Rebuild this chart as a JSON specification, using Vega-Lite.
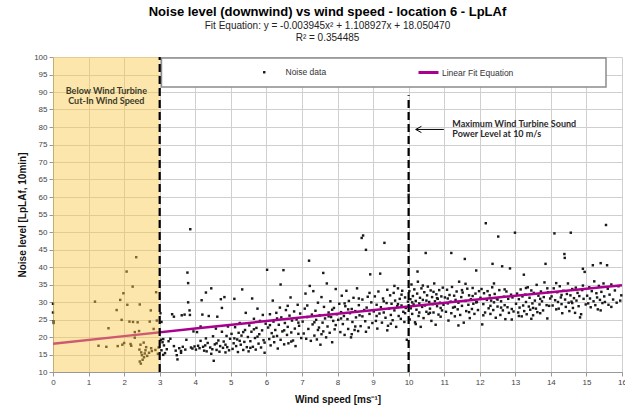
{
  "$schema": "https://vega.github.io/schema/vega-lite/v6.json",
  "width": 569,
  "height": 315,
  "autosize": "none",
  "padding": {"left": 53, "top": 57, "right": 3, "bottom": 42},
  "background": "white",
  "config": {"view": {"stroke": null}, "font": "Liberation Sans"},
  "title": {
    "text": "Noise level (downwind)  vs wind  speed - location 6 - LpLAf",
    "subtitle": ["Fit Equation: y = -0.003945x² + 1.108927x + 18.050470", "R² = 0.354485"],
    "font": "Liberation Sans", "fontSize": 13, "fontWeight": "bold", "color": "#000",
    "subtitleFont": "Liberation Sans", "subtitleFontSize": 10, "subtitleColor": "#222",
    "subtitlePadding": 2, "subtitleLineHeight": 12, "offset": 10, "anchor": "middle", "dx": -10
  },
  "datasets": {
    "pts": [
      {"x":0,"y":29.5},{"x":0,"y":27},{"x":0.02,"y":24.5},{"x":0.02,"y":24},
      {"x":1.18,"y":30.1},{"x":1.28,"y":17.5},{"x":1.5,"y":17.2},{"x":1.56,"y":22.5},{"x":1.79,"y":27.7},{"x":1.82,"y":17.4},{"x":1.89,"y":30.6},{"x":1.93,"y":24.9},{"x":1.95,"y":17.8},{"x":1.98,"y":32.5},{"x":2.0,"y":18.3},{"x":2.07,"y":38.7},{"x":2.09,"y":29.2},{"x":2.15,"y":24.4},{"x":2.18,"y":18.0},{"x":2.2,"y":17.5},{"x":2.24,"y":34.4},{"x":2.25,"y":24.3},{"x":2.3,"y":21.4},{"x":2.3,"y":19.8},{"x":2.34,"y":42.8},{"x":2.38,"y":24.2},{"x":2.42,"y":21.7},{"x":2.44,"y":29.3},{"x":2.46,"y":17.8},{"x":2.43,"y":16.4},{"x":2.48,"y":15.6},{"x":2.5,"y":14.8},{"x":2.44,"y":13.0},{"x":2.47,"y":12.4},{"x":2.52,"y":13.5},{"x":2.56,"y":14.2},{"x":2.58,"y":15.3},{"x":2.6,"y":16.2},{"x":2.55,"y":18.4},{"x":2.62,"y":17.1},{"x":2.65,"y":14.6},{"x":2.7,"y":15.5},{"x":2.72,"y":24.4},{"x":2.75,"y":27.6},{"x":2.76,"y":16.8},{"x":2.78,"y":16.0},{"x":2.83,"y":22.3},{"x":2.9,"y":32.8},{"x":2.92,"y":24.7},{"x":2.88,"y":16.3},{"x":2.95,"y":15.2},{"x":2.97,"y":17.0},
      {"x":3.02,"y":26.8},{"x":3.05,"y":24.3},{"x":3.03,"y":19.2},{"x":3.08,"y":18.5},{"x":3.1,"y":19.4},{"x":3.12,"y":17.6},{"x":3.05,"y":16.2},{"x":3.15,"y":15.4},{"x":3.1,"y":14.9},{"x":3.2,"y":16.5},{"x":3.25,"y":18.8},{"x":3.3,"y":19.5},{"x":3.35,"y":26.5},{"x":3.4,"y":25.8},{"x":3.4,"y":17.4},{"x":3.45,"y":16.1},{"x":3.48,"y":14.8},{"x":3.5,"y":13.6},{"x":3.55,"y":16.8},{"x":3.6,"y":15.5},{"x":3.6,"y":16.0},{"x":3.62,"y":26.2},{"x":3.65,"y":17.2},{"x":3.7,"y":26.4},{"x":3.72,"y":16.4},{"x":3.75,"y":19.2},{"x":3.78,"y":38.4},{"x":3.8,"y":35.4},{"x":3.8,"y":29.9},{"x":3.84,"y":27.6},{"x":3.85,"y":26.3},{"x":3.86,"y":50.8},{"x":3.88,"y":17.0},{"x":3.92,"y":16.7},{"x":3.95,"y":21.6},{"x":3.98,"y":17.3},
      {"x":4.02,"y":16.4},{"x":4.05,"y":21.4},{"x":4.08,"y":17.5},{"x":4.12,"y":16.8},{"x":4.15,"y":23.0},{"x":4.15,"y":18.9},{"x":4.18,"y":30.5},{"x":4.2,"y":26.4},{"x":4.22,"y":17.2},{"x":4.25,"y":16.1},{"x":4.28,"y":17.6},{"x":4.3,"y":32.7},{"x":4.3,"y":19.6},{"x":4.32,"y":15.9},{"x":4.35,"y":18.3},{"x":4.38,"y":26.0},{"x":4.42,"y":17.0},{"x":4.45,"y":33.9},{"x":4.45,"y":15.2},{"x":4.48,"y":16.5},{"x":4.5,"y":20.2},{"x":4.52,"y":13.2},{"x":4.55,"y":17.9},{"x":4.58,"y":22.4},{"x":4.6,"y":16.3},{"x":4.6,"y":18.2},{"x":4.62,"y":25.8},{"x":4.65,"y":19.0},{"x":4.68,"y":15.8},{"x":4.7,"y":17.4},{"x":4.72,"y":30.8},{"x":4.75,"y":21.5},{"x":4.75,"y":28.3},{"x":4.78,"y":16.9},{"x":4.8,"y":18.7},{"x":4.82,"y":31.4},{"x":4.85,"y":15.6},{"x":4.85,"y":17.8},{"x":4.88,"y":20.3},{"x":4.9,"y":17.1},{"x":4.92,"y":23.0},{"x":4.95,"y":16.2},{"x":4.98,"y":19.5},
      {"x":5.02,"y":20.9},{"x":5.05,"y":16.6},{"x":5.08,"y":18.2},{"x":5.1,"y":30.9},{"x":5.1,"y":19.6},{"x":5.12,"y":22.8},{"x":5.15,"y":17.4},{"x":5.18,"y":19.3},{"x":5.2,"y":15.7},{"x":5.22,"y":21.2},{"x":5.25,"y":24.0},{"x":5.25,"y":18.9},{"x":5.28,"y":17.8},{"x":5.3,"y":20.4},{"x":5.32,"y":33.6},{"x":5.35,"y":16.3},{"x":5.35,"y":21.4},{"x":5.38,"y":18.6},{"x":5.4,"y":22.0},{"x":5.42,"y":26.9},{"x":5.45,"y":17.1},{"x":5.48,"y":20.0},{"x":5.5,"y":15.9},{"x":5.52,"y":23.3},{"x":5.55,"y":18.8},{"x":5.55,"y":16.9},{"x":5.58,"y":21.5},{"x":5.6,"y":31.0},{"x":5.62,"y":17.2},{"x":5.65,"y":25.2},{"x":5.65,"y":22.2},{"x":5.68,"y":19.7},{"x":5.7,"y":16.4},{"x":5.72,"y":22.6},{"x":5.75,"y":28.1},{"x":5.75,"y":20.1},{"x":5.78,"y":18.1},{"x":5.8,"y":20.8},{"x":5.82,"y":24.6},{"x":5.85,"y":17.0},{"x":5.88,"y":21.9},{"x":5.9,"y":26.3},{"x":5.92,"y":19.1},{"x":5.95,"y":15.5},{"x":5.95,"y":18.4},{"x":5.98,"y":23.8},
      {"x":6.02,"y":39.2},{"x":6.05,"y":22.7},{"x":6.08,"y":19.4},{"x":6.1,"y":26.5},{"x":6.1,"y":23.4},{"x":6.12,"y":17.6},{"x":6.15,"y":21.1},{"x":6.18,"y":30.4},{"x":6.2,"y":24.4},{"x":6.2,"y":20.1},{"x":6.22,"y":18.5},{"x":6.25,"y":22.0},{"x":6.28,"y":26.9},{"x":6.3,"y":20.3},{"x":6.3,"y":25.3},{"x":6.32,"y":16.7},{"x":6.35,"y":23.5},{"x":6.38,"y":28.4},{"x":6.4,"y":19.2},{"x":6.4,"y":35.0},{"x":6.42,"y":25.6},{"x":6.45,"y":21.6},{"x":6.48,"y":39.1},{"x":6.5,"y":17.9},{"x":6.5,"y":21.9},{"x":6.52,"y":24.0},{"x":6.55,"y":27.7},{"x":6.58,"y":20.6},{"x":6.6,"y":22.9},{"x":6.6,"y":28.9},{"x":6.62,"y":18.2},{"x":6.65,"y":26.1},{"x":6.68,"y":31.3},{"x":6.7,"y":21.3},{"x":6.7,"y":18.7},{"x":6.72,"y":24.7},{"x":6.75,"y":19.0},{"x":6.78,"y":27.3},{"x":6.8,"y":22.4},{"x":6.82,"y":17.4},{"x":6.85,"y":25.0},{"x":6.88,"y":29.2},{"x":6.9,"y":20.9},{"x":6.9,"y":24.1},{"x":6.92,"y":23.2},{"x":6.95,"y":26.7},{"x":6.98,"y":19.7},
      {"x":7.02,"y":24.4},{"x":7.05,"y":21.0},{"x":7.08,"y":28.1},{"x":7.1,"y":32.4},{"x":7.12,"y":19.5},{"x":7.15,"y":25.7},{"x":7.15,"y":29.0},{"x":7.18,"y":22.3},{"x":7.2,"y":41.8},{"x":7.22,"y":34.6},{"x":7.25,"y":18.9},{"x":7.28,"y":26.4},{"x":7.3,"y":23.6},{"x":7.32,"y":33.1},{"x":7.35,"y":20.4},{"x":7.35,"y":24.2},{"x":7.38,"y":27.5},{"x":7.4,"y":24.9},{"x":7.42,"y":19.3},{"x":7.45,"y":29.8},{"x":7.45,"y":22.0},{"x":7.48,"y":22.7},{"x":7.5,"y":26.2},{"x":7.52,"y":17.8},{"x":7.55,"y":31.4},{"x":7.55,"y":20.8},{"x":7.58,"y":24.1},{"x":7.6,"y":21.6},{"x":7.6,"y":38.3},{"x":7.62,"y":28.6},{"x":7.65,"y":25.3},{"x":7.68,"y":19.9},{"x":7.7,"y":35.3},{"x":7.72,"y":23.0},{"x":7.75,"y":27.0},{"x":7.75,"y":25.9},{"x":7.78,"y":21.2},{"x":7.8,"y":30.2},{"x":7.82,"y":25.7},{"x":7.85,"y":18.5},{"x":7.85,"y":27.8},{"x":7.88,"y":24.6},{"x":7.9,"y":28.3},{"x":7.92,"y":22.2},{"x":7.95,"y":33.7},{"x":7.95,"y":23.4},{"x":7.98,"y":26.5},
      {"x":8.02,"y":24.9},{"x":8.05,"y":29.5},{"x":8.08,"y":21.4},{"x":8.1,"y":27.1},{"x":8.1,"y":25.3},{"x":8.12,"y":31.8},{"x":8.15,"y":23.7},{"x":8.18,"y":26.0},{"x":8.2,"y":20.6},{"x":8.2,"y":29.6},{"x":8.22,"y":28.8},{"x":8.25,"y":33.2},{"x":8.28,"y":25.1},{"x":8.3,"y":22.3},{"x":8.3,"y":27.9},{"x":8.32,"y":30.3},{"x":8.35,"y":26.8},{"x":8.38,"y":19.9},{"x":8.4,"y":28.0},{"x":8.4,"y":20.8},{"x":8.42,"y":24.3},{"x":8.45,"y":31.2},{"x":8.48,"y":22.0},{"x":8.5,"y":27.4},{"x":8.5,"y":23.0},{"x":8.52,"y":25.6},{"x":8.55,"y":33.9},{"x":8.58,"y":21.7},{"x":8.6,"y":29.1},{"x":8.6,"y":31.0},{"x":8.62,"y":26.2},{"x":8.65,"y":23.1},{"x":8.68,"y":48.3},{"x":8.7,"y":30.7},{"x":8.7,"y":25.9},{"x":8.72,"y":49.0},{"x":8.75,"y":27.7},{"x":8.78,"y":24.5},{"x":8.8,"y":44.9},{"x":8.8,"y":21.5},{"x":8.82,"y":28.4},{"x":8.85,"y":31.5},{"x":8.88,"y":22.7},{"x":8.9,"y":26.6},{"x":8.9,"y":32.6},{"x":8.92,"y":37.9},{"x":8.95,"y":29.9},{"x":8.98,"y":24.0},
      {"x":9.02,"y":27.3},{"x":9.05,"y":31.6},{"x":9.08,"y":24.6},{"x":9.1,"y":29.2},{"x":9.1,"y":26.0},{"x":9.12,"y":22.4},{"x":9.15,"y":33.0},{"x":9.18,"y":26.7},{"x":9.2,"y":38.1},{"x":9.22,"y":28.5},{"x":9.25,"y":24.1},{"x":9.28,"y":31.0},{"x":9.3,"y":27.0},{"x":9.3,"y":30.2},{"x":9.32,"y":46.9},{"x":9.35,"y":25.5},{"x":9.38,"y":29.7},{"x":9.4,"y":33.5},{"x":9.4,"y":21.9},{"x":9.42,"y":23.2},{"x":9.45,"y":28.1},{"x":9.48,"y":31.9},{"x":9.5,"y":26.3},{"x":9.5,"y":23.8},{"x":9.52,"y":29.5},{"x":9.55,"y":24.8},{"x":9.58,"y":32.6},{"x":9.6,"y":27.6},{"x":9.6,"y":34.6},{"x":9.62,"y":30.4},{"x":9.65,"y":22.9},{"x":9.68,"y":28.8},{"x":9.7,"y":33.9},{"x":9.7,"y":29.4},{"x":9.72,"y":26.0},{"x":9.75,"y":30.9},{"x":9.78,"y":25.2},{"x":9.8,"y":29.0},{"x":9.8,"y":32.1},{"x":9.82,"y":33.2},{"x":9.85,"y":27.2},{"x":9.88,"y":24.3},{"x":9.9,"y":31.3},{"x":9.9,"y":26.8},{"x":9.92,"y":28.3},{"x":9.95,"y":19.2},{"x":9.98,"y":30.1},
      {"x":10.0,"y":60.6},{"x":10.02,"y":33.1},{"x":10.03,"y":25.0},{"x":10.05,"y":30.8},{"x":10.06,"y":28.2},{"x":10.08,"y":35.0},{"x":10.1,"y":26.6},{"x":10.1,"y":29.9},{"x":10.12,"y":31.7},{"x":10.14,"y":29.3},{"x":10.16,"y":33.6},{"x":10.18,"y":24.2},{"x":10.2,"y":30.3},{"x":10.2,"y":23.7},{"x":10.22,"y":27.8},{"x":10.24,"y":32.4},{"x":10.25,"y":38.7},{"x":10.26,"y":35.8},{"x":10.28,"y":26.0},{"x":10.3,"y":29.6},{"x":10.3,"y":27.0},{"x":10.32,"y":31.2},{"x":10.34,"y":22.9},{"x":10.36,"y":33.9},{"x":10.38,"y":28.6},{"x":10.4,"y":30.6},{"x":10.4,"y":34.7},{"x":10.42,"y":25.4},{"x":10.44,"y":32.8},{"x":10.46,"y":29.0},{"x":10.48,"y":44.0},{"x":10.5,"y":27.2},{"x":10.5,"y":30.4},{"x":10.52,"y":31.9},{"x":10.54,"y":34.4},{"x":10.56,"y":26.6},{"x":10.58,"y":30.0},{"x":10.6,"y":28.1},{"x":10.6,"y":26.9},{"x":10.62,"y":33.3},{"x":10.64,"y":24.6},{"x":10.66,"y":31.4},{"x":10.68,"y":29.4},{"x":10.7,"y":27.0},{"x":10.7,"y":32.9},{"x":10.72,"y":35.3},{"x":10.74,"y":30.2},{"x":10.76,"y":23.5},{"x":10.78,"y":32.2},{"x":10.8,"y":28.8},{"x":10.8,"y":31.1},{"x":10.82,"y":30.9},{"x":10.84,"y":26.4},{"x":10.86,"y":33.4},{"x":10.88,"y":29.8},{"x":10.9,"y":25.8},{"x":10.9,"y":28.3},{"x":10.92,"y":31.6},{"x":10.94,"y":27.6},{"x":10.96,"y":34.1},{"x":10.98,"y":29.2},
      {"x":11.02,"y":31.3},{"x":11.05,"y":27.2},{"x":11.08,"y":33.5},{"x":11.1,"y":29.6},{"x":11.1,"y":31.0},{"x":11.12,"y":24.7},{"x":11.15,"y":32.0},{"x":11.18,"y":30.1},{"x":11.2,"y":26.8},{"x":11.2,"y":44.0},{"x":11.22,"y":34.3},{"x":11.25,"y":28.4},{"x":11.28,"y":31.8},{"x":11.3,"y":25.9},{"x":11.3,"y":28.6},{"x":11.32,"y":30.6},{"x":11.35,"y":33.0},{"x":11.38,"y":27.9},{"x":11.4,"y":29.8},{"x":11.4,"y":23.3},{"x":11.42,"y":35.8},{"x":11.45,"y":26.3},{"x":11.48,"y":31.4},{"x":11.5,"y":28.9},{"x":11.5,"y":33.4},{"x":11.52,"y":32.7},{"x":11.55,"y":24.1},{"x":11.58,"y":42.3},{"x":11.6,"y":30.3},{"x":11.6,"y":35.2},{"x":11.62,"y":27.4},{"x":11.65,"y":33.8},{"x":11.68,"y":29.2},{"x":11.7,"y":31.9},{"x":11.7,"y":27.1},{"x":11.72,"y":25.4},{"x":11.75,"y":30.8},{"x":11.78,"y":28.0},{"x":11.8,"y":34.0},{"x":11.8,"y":31.7},{"x":11.82,"y":29.5},{"x":11.85,"y":26.6},{"x":11.88,"y":32.4},{"x":11.9,"y":39.0},{"x":11.9,"y":29.9},{"x":11.92,"y":30.0},{"x":11.95,"y":27.7},{"x":11.98,"y":33.1},
      {"x":12.02,"y":31.2},{"x":12.05,"y":33.7},{"x":12.07,"y":23.6},{"x":12.1,"y":29.4},{"x":12.1,"y":26.2},{"x":12.12,"y":32.5},{"x":12.15,"y":27.0},{"x":12.17,"y":52.5},{"x":12.2,"y":30.6},{"x":12.22,"y":33.1},{"x":12.25,"y":28.2},{"x":12.28,"y":31.9},{"x":12.3,"y":26.6},{"x":12.3,"y":28.9},{"x":12.32,"y":30.4},{"x":12.35,"y":34.2},{"x":12.36,"y":40.9},{"x":12.38,"y":27.7},{"x":12.4,"y":29.9},{"x":12.4,"y":35.3},{"x":12.42,"y":32.3},{"x":12.45,"y":25.5},{"x":12.48,"y":31.0},{"x":12.5,"y":28.7},{"x":12.5,"y":30.7},{"x":12.52,"y":48.7},{"x":12.55,"y":33.4},{"x":12.58,"y":26.3},{"x":12.6,"y":30.2},{"x":12.6,"y":28.4},{"x":12.63,"y":40.2},{"x":12.65,"y":27.6},{"x":12.68,"y":31.5},{"x":12.7,"y":29.1},{"x":12.7,"y":33.6},{"x":12.72,"y":25.1},{"x":12.75,"y":33.0},{"x":12.78,"y":28.5},{"x":12.8,"y":30.9},{"x":12.82,"y":26.9},{"x":12.85,"y":39.6},{"x":12.88,"y":32.1},{"x":12.9,"y":28.0},{"x":12.9,"y":25.0},{"x":12.92,"y":31.3},{"x":12.95,"y":27.3},{"x":12.99,"y":49.8},
      {"x":13.02,"y":29.5},{"x":13.05,"y":32.4},{"x":13.08,"y":27.0},{"x":13.1,"y":30.8},{"x":13.1,"y":26.0},{"x":13.12,"y":28.4},{"x":13.15,"y":33.6},{"x":13.18,"y":25.9},{"x":13.2,"y":31.6},{"x":13.22,"y":29.0},{"x":13.24,"y":37.8},{"x":13.25,"y":27.4},{"x":13.28,"y":32.1},{"x":13.3,"y":30.0},{"x":13.3,"y":34.0},{"x":13.32,"y":26.5},{"x":13.35,"y":34.2},{"x":13.38,"y":28.7},{"x":13.4,"y":31.2},{"x":13.42,"y":27.8},{"x":13.45,"y":33.3},{"x":13.45,"y":25.2},{"x":13.48,"y":29.6},{"x":13.5,"y":26.2},{"x":13.5,"y":28.3},{"x":13.52,"y":32.6},{"x":13.55,"y":30.4},{"x":13.58,"y":28.1},{"x":13.6,"y":34.9},{"x":13.62,"y":27.1},{"x":13.65,"y":31.8},{"x":13.68,"y":29.3},{"x":13.7,"y":26.8},{"x":13.7,"y":30.9},{"x":13.72,"y":33.0},{"x":13.75,"y":30.2},{"x":13.78,"y":27.6},{"x":13.8,"y":31.4},{"x":13.82,"y":35.6},{"x":13.85,"y":40.9},{"x":13.88,"y":29.1},{"x":13.9,"y":25.3},{"x":13.9,"y":33.9},{"x":13.92,"y":32.8},{"x":13.95,"y":28.9},{"x":13.98,"y":31.0},
      {"x":14.02,"y":31.6},{"x":14.05,"y":29.0},{"x":14.08,"y":33.9},{"x":14.1,"y":49.6},{"x":14.12,"y":30.5},{"x":14.15,"y":27.9},{"x":14.15,"y":35.4},{"x":14.18,"y":32.8},{"x":14.2,"y":30.0},{"x":14.22,"y":28.1},{"x":14.25,"y":34.5},{"x":14.28,"y":31.3},{"x":14.3,"y":29.4},{"x":14.3,"y":32.0},{"x":14.32,"y":26.8},{"x":14.35,"y":33.2},{"x":14.38,"y":43.7},{"x":14.39,"y":42.6},{"x":14.4,"y":30.7},{"x":14.42,"y":28.6},{"x":14.45,"y":32.3},{"x":14.48,"y":35.3},{"x":14.5,"y":29.8},{"x":14.52,"y":27.4},{"x":14.55,"y":31.9},{"x":14.56,"y":49.8},{"x":14.58,"y":30.1},{"x":14.6,"y":33.7},{"x":14.6,"y":29.7},{"x":14.62,"y":28.3},{"x":14.65,"y":31.1},{"x":14.68,"y":26.9},{"x":14.7,"y":34.1},{"x":14.72,"y":30.4},{"x":14.75,"y":32.6},{"x":14.78,"y":28.8},{"x":14.8,"y":31.7},{"x":14.82,"y":25.6},{"x":14.85,"y":26.5},{"x":14.88,"y":33.4},{"x":14.9,"y":39.5},{"x":14.9,"y":34.7},{"x":14.92,"y":30.9},{"x":14.95,"y":38.6},{"x":14.98,"y":29.3},
      {"x":15.02,"y":31.8},{"x":15.05,"y":29.6},{"x":15.08,"y":34.2},{"x":15.1,"y":31.0},{"x":15.12,"y":28.5},{"x":15.15,"y":33.1},{"x":15.18,"y":40.5},{"x":15.2,"y":30.2},{"x":15.22,"y":35.9},{"x":15.25,"y":29.1},{"x":15.28,"y":32.5},{"x":15.3,"y":31.3},{"x":15.32,"y":27.9},{"x":15.35,"y":34.6},{"x":15.38,"y":30.6},{"x":15.4,"y":41.1},{"x":15.4,"y":27.6},{"x":15.42,"y":32.9},{"x":15.45,"y":29.7},{"x":15.48,"y":35.3},{"x":15.5,"y":31.6},{"x":15.52,"y":30.0},{"x":15.55,"y":52.0},{"x":15.58,"y":40.5},{"x":15.6,"y":33.8},{"x":15.62,"y":29.2},{"x":15.65,"y":32.1},{"x":15.7,"y":35.0},{"x":15.7,"y":28.6},{"x":15.75,"y":30.7},{"x":15.8,"y":33.3},{"x":15.85,"y":29.8},{"x":15.9,"y":34.5},{"x":15.95,"y":30.4},{"x":15.98,"y":31.9}
    ],
    "fit": [
      {"x":0,"y":18.05},{"x":2,"y":20.25},{"x":4,"y":22.42},{"x":6,"y":24.56},{"x":8,"y":26.67},{"x":10,"y":28.74},{"x":12,"y":30.79},{"x":14,"y":32.80},{"x":16,"y":34.78}
    ]
  },
  "encoding": {
    "x": {
      "field": "x", "type": "quantitative",
      "scale": {"domain": [0, 16], "nice": false, "zero": false},
      "axis": {
        "title": "Wind speed [ms⁻¹]", "values": [0,1,2,3,4,5,6,7,8,9,10,11,12,13,14,15,16],
        "labelFontSize": 8, "labelColor": "#444", "labelFont": "Liberation Sans", "labelFlush": false,
        "titleFont": "Liberation Sans", "titleFontSize": 10, "titleFontWeight": "bold", "titleColor": "#111", "titlePadding": 8,
        "grid": true, "gridColor": "#cfcfcf", "tickColor": "#999", "tickSize": 4, "domainColor": "#999"
      }
    },
    "y": {
      "field": "y", "type": "quantitative",
      "scale": {"domain": [10, 100], "nice": false, "zero": false},
      "axis": {
        "title": "Noise level [LpLAf, 10min]", "values": [10,15,20,25,30,35,40,45,50,55,60,65,70,75,80,85,90,95,100],
        "labelFontSize": 8, "labelColor": "#444", "labelFont": "Liberation Sans",
        "titleFont": "Liberation Sans", "titleFontSize": 10, "titleFontWeight": "bold", "titleColor": "#111", "titlePadding": 6,
        "grid": true, "gridColor": "#cfcfcf", "tickColor": "#999", "tickSize": 4, "domainColor": "#999"
      }
    }
  },
  "layer": [
    {
      "data": {"values": [{"x": 3.05, "x2": 15.55, "y": 91.4, "y2": 99.7}]},
      "mark": {"type": "rect", "fill": "white", "stroke": "#8c8c8c", "strokeWidth": 1.5},
      "encoding": {"x2": {"field": "x2"}, "y2": {"field": "y2"}}
    },
    {
      "data": {"name": "pts"},
      "mark": {"type": "point", "filled": true, "size": 6, "opacity": 1, "color": "#1a1a1a"},
      "encoding": {
        "shape": {
          "datum": "Noise data", "type": "nominal",
          "scale": {"domain": ["Noise data"], "range": ["square"]},
          "legend": {
            "orient": "none", "legendX": 207, "legendY": 11, "direction": "horizontal", "title": null,
            "padding": 0, "labelFontSize": 8.5, "labelColor": "#333", "labelFont": "Liberation Sans",
            "labelOffset": 17, "symbolSize": 6, "symbolFillColor": "#1a1a1a", "symbolStrokeWidth": 0, "symbolOpacity": 1
          }
        }
      }
    },
    {
      "data": {"name": "fit"},
      "mark": {"type": "line", "strokeWidth": 2.5},
      "encoding": {
        "color": {
          "datum": "Linear Fit Equation", "type": "nominal",
          "scale": {"domain": ["Linear Fit Equation"], "range": ["#AA0090"]},
          "legend": {
            "orient": "none", "legendX": 364, "legendY": 4, "direction": "horizontal", "title": null,
            "padding": 0, "labelFontSize": 8.5, "labelColor": "#333", "labelFont": "Liberation Sans",
            "labelOffset": 2, "symbolType": "stroke", "symbolSize": 400, "symbolStrokeWidth": 3
          }
        }
      }
    },
    {
      "data": {"values": [{"x": 0, "x2": 3, "y": 10, "y2": 100}]},
      "mark": {"type": "rect", "fill": "#F9C846", "opacity": 0.45},
      "encoding": {"x2": {"field": "x2"}, "y2": {"field": "y2"}}
    },
    {
      "data": {"values": [{"x": 3, "y": 10, "y2": 100}, {"x": 10, "y": 10, "y2": 89.1}]},
      "mark": {"type": "rule", "color": "#000", "strokeWidth": 2.2, "strokeDash": [8, 4]},
      "encoding": {"y2": {"field": "y2"}}
    },
    {
      "data": {"values": [{"x": 10.2, "x2": 10.99, "y": 79.3}]},
      "mark": {"type": "rule", "color": "#000", "strokeWidth": 1},
      "encoding": {"x2": {"field": "x2"}}
    },
    {
      "data": {"values": [{"x": 10.36, "y": 80.2, "o": 1}, {"x": 10.2, "y": 79.3, "o": 2}, {"x": 10.36, "y": 78.4, "o": 3}]},
      "mark": {"type": "line", "color": "#000", "strokeWidth": 1},
      "encoding": {"order": {"field": "o"}}
    },
    {
      "data": {"values": [
        {"x": 1.5, "y": 90.4, "t": "Below Wind Turbine"},
        {"x": 1.5, "y": 87.5, "t": "Cut-In Wind Speed"}
      ]},
      "mark": {"type": "text", "font": "Lato", "fontWeight": "bold", "fontSize": 9, "color": "#3a3a2a", "align": "center", "baseline": "middle"},
      "encoding": {"text": {"field": "t"}}
    },
    {
      "data": {"values": [
        {"x": 11.23, "y": 80.9, "t": "Maximum Wind Turbine Sound"},
        {"x": 11.23, "y": 77.9, "t": "Power Level at 10 m/s"}
      ]},
      "mark": {"type": "text", "font": "Lato", "fontWeight": "bold", "fontSize": 9, "color": "#2a2a2a", "align": "left", "baseline": "middle"},
      "encoding": {"text": {"field": "t"}}
    }
  ]
}
